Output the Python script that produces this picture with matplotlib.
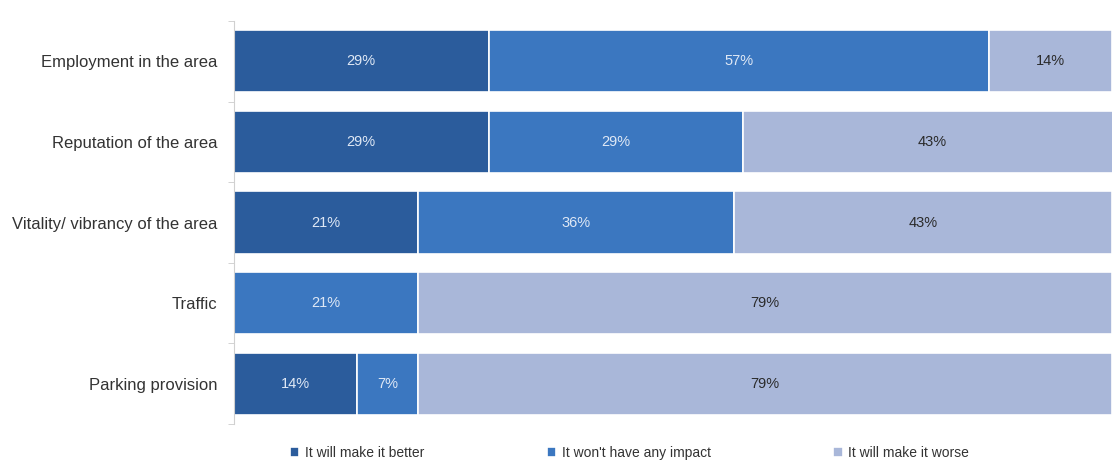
import matplotlib.pyplot as plt
from matplotlib.ticker import FixedLocator, NullLocator

categories = ["Employment in the area", "Reputation of the area",
              "Vitality/ vibrancy of the area", "Traffic", "Parking provision"]
better = [29, 29, 21, 0, 14]
no_impact = [57, 29, 36, 21, 7]
worse = [14, 43, 43, 79, 79]
series_names = ["It will make it better", "It won't have any impact", "It will make it worse"]

colors = ["#2b5c9c", "#3b77c0", "#a9b7d9"]
text_colors = ["#dfe8f5", "#dfe8f5", "#2b2b2b"]

plt.rcParams["font.family"] = ["Liberation Sans", "DejaVu Sans"]

fig = plt.figure(figsize=(11.12, 4.67), dpi=100)
ax = fig.add_axes([0.2104, 0.092, 0.7896, 0.863])

y = list(range(len(categories)))
left = [0] * len(categories)
for vals, col, tcol, name in zip([better, no_impact, worse], colors, text_colors, series_names):
    bars = ax.barh(y, vals, left=left, height=0.77, color=col, edgecolor="white",
                   linewidth=1.2, label=name)
    for bar, v in zip(bars, vals):
        if v > 0:
            ax.text(bar.get_x() + bar.get_width() / 2, bar.get_y() + bar.get_height() / 2,
                    f"{v}%", ha="center", va="center", fontsize=10.5, color=tcol)
    left = [a + b for a, b in zip(left, vals)]

ax.set_xlim(0, 100)
ax.set_ylim(4.5, -0.5)
ax.set_yticks(y)
ax.set_yticklabels(categories, fontsize=12, color="#333333")
ax.tick_params(axis="y", which="major", length=0, pad=12)
ax.yaxis.set_minor_locator(FixedLocator([i - 0.5 for i in range(len(categories) + 1)]))
ax.tick_params(axis="y", which="minor", length=4, color="#cccccc")
ax.xaxis.set_major_locator(NullLocator())
for side in ["top", "right", "bottom"]:
    ax.spines[side].set_visible(False)
ax.spines["left"].set_color("#d0d0d0")

fig.legend(loc="lower center", bbox_to_anchor=(0.566, -0.012), ncol=3, frameon=False,
           fontsize=10, handlelength=0.7, handleheight=0.7, handletextpad=0.4,
           columnspacing=8.8, labelcolor="#333333")

fig.savefig("out.png", dpi=100)
